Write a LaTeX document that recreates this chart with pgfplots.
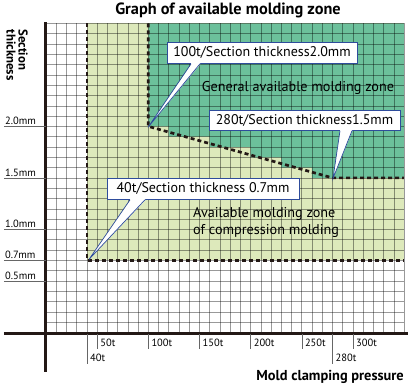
\documentclass[border=0pt]{standalone}
\usepackage{pgfplots}
\pgfplotsset{compat=1.18}
\usepackage{fontspec}
\setmainfont{PT Sans}
\definecolor{lightg}{HTML}{DDE9BB}
\definecolor{darkg}{HTML}{6CC09B}
\definecolor{axblk}{HTML}{231815}
\definecolor{callb}{HTML}{2E4C9C}
\newcommand\pointer[5]{%
  \fill[white] (#1,#2) -- (#3,#5+1.2) -- (#3,#5-1) -- (#4,#5-1) -- (#4,#5+1.2) -- cycle;
  \draw[callb, line width=0.7pt] (#3,#5+0.4) -- (#1,#2) -- (#4,#5+0.4);
}
\begin{document}
\begin{tikzpicture}
\begin{axis}[
  set layers,
  scale only axis, width=358pt, height=309pt,
  xmin=0, xmax=350, ymin=0, ymax=3,
  xtick={0,10,...,350}, ytick={0,0.1,...,3.05},
  xticklabels={}, yticklabels={},
  tick style={draw=none},
  axis line style={draw=none},
  grid=major,
  major grid style={draw=black, draw opacity=0.4, line width=0.5pt},
  clip=false,
]
\addplot[on layer=axis background, fill=lightg, draw=none] coordinates {(40,0.7)(350,0.7)(350,3)(40,3)};
\addplot[on layer=axis background, fill=darkg, draw=none] coordinates {(100,3)(100,2.0)(120,2.0)(120,1.9)(160,1.9)(160,1.8)(200,1.8)(200,1.7)(230,1.7)(230,1.6)(260,1.6)(260,1.5)(350,1.5)(350,3)};
\addplot[axblk, line width=2.7pt, dash pattern=on 4pt off 3pt] coordinates {(40,3)(40,0.7)(350,0.7)};
\addplot[axblk, line width=2.7pt, dash pattern=on 4pt off 3pt] coordinates {(100,3)(100,2.0)(280,1.5)(350,1.5)};
\coordinate (O) at (axis cs:0,0);
\end{axis}
\begin{scope}[shift={(O)}, x=1pt, y=-1pt, shift={(-46,-332)}]
\path (0,0) rectangle (410,390);
% axis lines
\draw[axblk, line width=3pt] (46,22) -- (46,372);
\draw[axblk, line width=3pt] (4,333) -- (408,333);
% y tick labels
\foreach \v/\p in {2.0/126, 1.5/177.5, 1.0/229, 0.7/259.9, 0.5/280.5}{
  \draw[black!60, line width=0.5pt] (4,\p) -- (46,\p);
  \node[anchor=south west, inner sep=0pt, font=\fontsize{10.5}{11}\selectfont] at (5,\p-1.5) {\v mm};
}
% x tick labels
\foreach \l/\p in {50t/97.2, 100t/148.3, 150t/199.5, 200t/250.6, 250t/301.8, 300t/352.9}{
  \draw[black!60, line width=0.5pt] (\p,334) -- (\p,349);
  \node[anchor=west, inner sep=0pt, font=\fontsize{10.5}{11}\selectfont] at (\p+3,342) {\l};
}
\foreach \l/\p in {40t/86.9, 280t/332.4}{
  \draw[black!60, line width=0.5pt] (\p,334) -- (\p,364);
  \node[anchor=west, inner sep=0pt, font=\fontsize{10.5}{11}\selectfont] at (\p+3,357) {\l};
}
% titles
\node[font=\bfseries\fontsize{16.3}{18}\selectfont] at (228,10.5) {Graph of available molding zone};
\node[anchor=east, inner sep=0pt, font=\bfseries\fontsize{14.4}{16}\selectfont] at (404,377) {Mold clamping pressure};
\node[anchor=north west, rotate=-90, inner sep=0pt, align=left, font=\bfseries\fontsize{12.8}{12}\selectfont] at (28,29) {Section\\thickness};
% region labels
\node[font=\fontsize{14.2}{16}\selectfont] at (298,88) {General available molding zone};
\node[anchor=west, align=left, inner sep=0pt, font=\fontsize{14.2}{17}\selectfont] at (193,222) {Available molding zone\\of compression molding};
% callouts
\draw[callb, line width=0.8pt, fill=white] (167,42) rectangle (357,63);
\node[font=\fontsize{14}{15}\selectfont] at (262,52.5) {100t/Section thickness2.0mm};
\pointer{148}{127}{191}{200}{63}
\draw[callb, line width=0.8pt, fill=white] (209,110) rectangle (400,130);
\node[font=\fontsize{14}{15}\selectfont] at (304.5,120) {280t/Section thickness1.5mm};
\pointer{333}{178}{340}{352}{130}
\draw[callb, line width=0.8pt, fill=white] (107,178) rectangle (299,199);
\node[font=\fontsize{14}{15}\selectfont] at (203,188.5) {40t/Section thickness 0.7mm};
\pointer{89}{259}{130}{145}{199}
\end{scope}
\end{tikzpicture}
\end{document}
